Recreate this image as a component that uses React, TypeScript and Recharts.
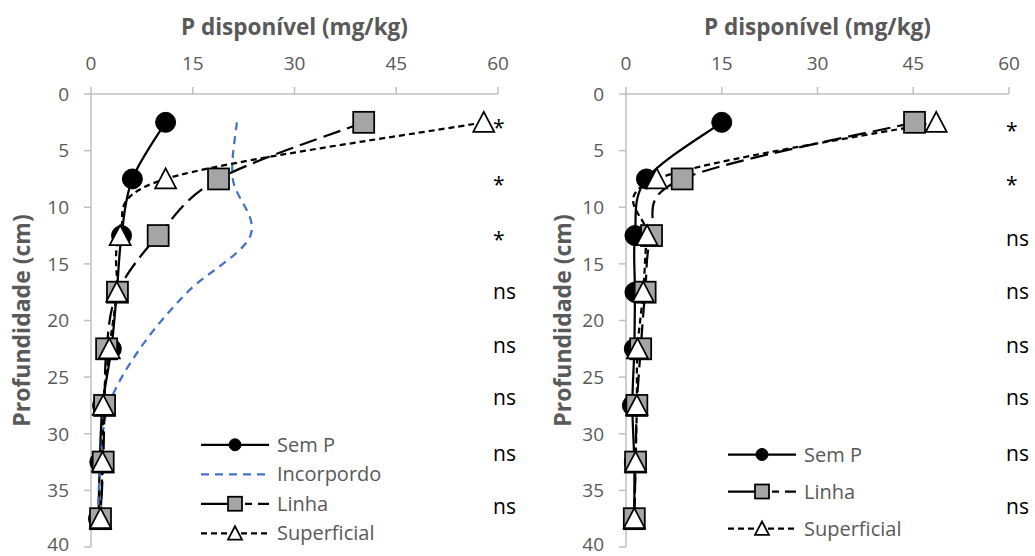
import { LineChart, Line, XAxis, YAxis, Legend, LabelList, Label } from 'recharts';

const FONT = '"Open Sans", "Noto Sans", sans-serif';
const GRAY_TEXT = '#595959';
const AXIS_GRAY = '#bfbfbf';

// profundidades (cm) e eixos
const depths = [2.5, 7.5, 12.5, 17.5, 22.5, 27.5, 32.5, 37.5];
const xTicks = [0, 15, 30, 45, 60];
const yTicks = [0, 5, 10, 15, 20, 25, 30, 35, 40];

// painel esquerdo
const semPLeft = [11.0, 6.1, 4.5, 3.8, 3.0, 1.7, 1.3, 1.1];
const incorpLeft = [21.5, 20.9, 23.5, 14.2, 7.2, 2.6, 1.4, 1.0];
const linhaLeft = [40.2, 18.8, 9.9, 3.9, 2.3, 2.0, 1.8, 1.4];
const supLeft = [57.9, 11.0, 4.3, 3.8, 2.7, 1.8, 1.7, 1.4];
const sigLeft = ['*', '*', '*', 'ns', 'ns', 'ns', 'ns', 'ns'];
const sigDepthLeft = [2.6, 7.6, 12.5, 17.6, 22.4, 27.0, 31.9, 36.6];

// painel direito
const semPRight = [15.0, 3.2, 1.4, 1.4, 1.3, 1.0, 1.3, 1.3];
const linhaRight = [45.2, 8.8, 4.0, 3.0, 2.3, 1.7, 1.5, 1.3];
const supRight = [48.6, 4.8, 3.3, 2.7, 1.8, 1.7, 1.5, 1.3];
const sigRight = ['*', '*', 'ns', 'ns', 'ns', 'ns', 'ns', 'ns'];
const sigDepthRight = [2.9, 7.6, 12.9, 17.6, 22.4, 27.0, 31.9, 36.6];

const buildRows = (semP: number[], linha: number[], sup: number[], incorp?: number[]) =>
  depths.map((depth, i) => ({
    depth,
    semP: semP[i],
    linha: linha[i],
    sup: sup[i],
    ...(incorp ? { incorp: incorp[i] } : {}),
  }));

const buildSig = (labels: string[], sigDepths: number[]) =>
  labels.map((label, i) => ({ depth: sigDepths[i], label }));

// suavizacao parecida com a do Excel (Catmull-Rom)
const smoothCurve = (context: any) => {
  let pts: number[][] = [];
  return {
    areaStart() {},
    areaEnd() {},
    lineStart() {
      pts = [];
    },
    point(x: number, y: number) {
      pts.push([+x, +y]);
    },
    lineEnd() {
      if (!pts.length) return;
      context.moveTo(pts[0][0], pts[0][1]);
      const t = 1 / 6;
      for (let i = 0; i < pts.length - 1; i++) {
        const p0 = pts[i - 1] || pts[i];
        const p1 = pts[i];
        const p2 = pts[i + 1];
        const p3 = pts[i + 2] || p2;
        context.bezierCurveTo(
          p1[0] + (p2[0] - p0[0]) * t,
          p1[1] + (p2[1] - p0[1]) * t,
          p2[0] - (p3[0] - p1[0]) * t,
          p2[1] - (p3[1] - p1[1]) * t,
          p2[0],
          p2[1]
        );
      }
    },
  };
};

type MarkerKind = 'circle' | 'square' | 'triangle' | 'none';

const Marker = ({ kind, cx, cy, size }: { kind: MarkerKind; cx: number; cy: number; size: number }) => {
  const h = size / 2;
  if (kind === 'circle') return <circle cx={cx} cy={cy} r={h} fill="#000" stroke="#000" strokeWidth={1} />;
  if (kind === 'square')
    return <rect x={cx - h} y={cy - h} width={size} height={size} fill="#a5a5a5" stroke="#000" strokeWidth={1.75} />;
  if (kind === 'triangle')
    return (
      <polygon
        points={`${cx},${cy - h} ${cx + h},${cy + h * 0.9} ${cx - h},${cy + h * 0.9}`}
        fill="#fff"
        stroke="#000"
        strokeWidth={1.75}
        strokeLinejoin="miter"
      />
    );
  return null;
};

const dotFor = (kind: MarkerKind, size: number) => (props: any) =>
  <Marker key={`${kind}-${props.index}`} kind={kind} cx={props.cx} cy={props.cy} size={size} />;

interface LegendItem {
  name: string;
  color: string;
  dash?: string;
  marker: MarkerKind;
}

const legendSemP: LegendItem = { name: 'Sem P', color: '#000', marker: 'circle' };
const legendIncorp: LegendItem = { name: 'Incorpordo', color: '#4472c4', dash: '8 6', marker: 'none' };
const legendLinha: LegendItem = { name: 'Linha', color: '#000', dash: '28 16 7 6 11 10', marker: 'square' };
const legendSup: LegendItem = { name: 'Superficial', color: '#000', dash: '6 4', marker: 'triangle' };

const renderLegend = (items: LegendItem[], rowH: number) => () => (
  <svg width={220} height={items.length * rowH} style={{ display: 'block' }}>
    {items.map((it, i) => {
      const cy = rowH * i + rowH / 2;
      return (
        <g key={it.name}>
          <line x1={1} x2={69} y1={cy} y2={cy} stroke={it.color} strokeWidth={2.25} strokeDasharray={it.dash} />
          <Marker kind={it.marker} cx={35} cy={cy} size={it.marker === 'circle' ? 12 : 14} />
          <text x={77} y={cy} dy="0.36em" fontFamily={FONT} fontSize={20} fill={GRAY_TEXT}>
            {it.name}
          </text>
        </g>
      );
    })}
  </svg>
);

const sigLabel = (dx: number) => (p: any) => {
  const x = p.x ?? p.viewBox?.x;
  const y = p.y ?? p.viewBox?.y;
  const star = p.value === '*';
  return (
    <text x={x + dx} y={y} dy={star ? '0.55em' : '0.27em'} fontFamily={FONT} fontSize={21} fill="#000">
      {p.value}
    </text>
  );
};

const YTick = (p: any) => (
  <text
    x={p.x}
    y={p.y}
    dy={p.payload.value === 40 ? '0.2em' : '0.36em'}
    textAnchor="end"
    fontFamily={FONT}
    fontSize={19}
    fill={GRAY_TEXT}
  >
    {p.payload.value}
  </text>
);

interface PanelProps {
  left: number;
  width: number;
  yAxisWidth: number;
  rightMargin: number;
  yLabelX: number;
  rows: any[];
  sig: { depth: number; label: string }[];
  sigDx: number;
  legendItems: LegendItem[];
  legendLeft: number;
  legendTop: number;
  legendRowH: number;
  showIncorp: boolean;
}

function Panel(props: PanelProps) {
  const { rows, sig } = props;
  return (
    <div style={{ position: 'absolute', left: props.left, top: 0 }}>
      <LineChart
        width={props.width}
        height={556}
        data={rows}
        layout="vertical"
        margin={{ top: 0, right: props.rightMargin, left: 0, bottom: 9 }}
      >
        <XAxis
          type="number"
          orientation="top"
          domain={[0, 60]}
          ticks={xTicks}
          height={94}
          tickSize={7}
          tickMargin={17}
          stroke={AXIS_GRAY}
          strokeWidth={1.5}
          tick={{ fill: GRAY_TEXT, fontSize: 19, fontFamily: FONT }}
        >
          <Label
            content={(lp: any) => {
              const vb = lp.viewBox || {};
              return (
                <text
                  x={vb.x + vb.width / 2}
                  y={35}
                  textAnchor="middle"
                  fontFamily={FONT}
                  fontSize={22.5}
                  fontWeight="bold"
                  fill={GRAY_TEXT}
                >
                  P disponível (mg/kg)
                </text>
              );
            }}
          />
        </XAxis>
        <YAxis
          type="number"
          dataKey="depth"
          domain={[0, 40]}
          ticks={yTicks}
          width={props.yAxisWidth}
          tickSize={7}
          tickMargin={15}
          stroke={AXIS_GRAY}
          strokeWidth={1.5}
          tick={<YTick />}
        >
          <Label
            content={(lp: any) => {
              const vb = lp.viewBox || {};
              const cx = vb.x + props.yLabelX;
              const cy = vb.y + vb.height / 2;
              return (
                <text
                  transform={`translate(${cx}, ${cy}) rotate(-90)`}
                  textAnchor="middle"
                  dy="0.36em"
                  fontFamily={FONT}
                  fontSize={23}
                  fontWeight="bold"
                  fill={GRAY_TEXT}
                >
                  Profundidade (cm)
                </text>
              );
            }}
          />
        </YAxis>
        <Legend
          layout="vertical"
          align="center"
          verticalAlign="middle"
          content={renderLegend(props.legendItems, props.legendRowH)}
          wrapperStyle={{ left: props.legendLeft, top: props.legendTop, width: 220 }}
        />
        <Line
          dataKey="semP"
          type={smoothCurve as any}
          stroke="#000"
          strokeWidth={2.25}
          dot={dotFor('circle', 20)}
          activeDot={false}
          isAnimationActive={false}
        />
        {props.showIncorp && (
          <Line
            dataKey="incorp"
            type={smoothCurve as any}
            stroke="#4472c4"
            strokeWidth={2.25}
            strokeDasharray="8 6"
            dot={false}
            activeDot={false}
            isAnimationActive={false}
          />
        )}
        <Line
          dataKey="linha"
          type={smoothCurve as any}
          stroke="#000"
          strokeWidth={2.25}
          strokeDasharray="18 7"
          dot={dotFor('square', 21)}
          activeDot={false}
          isAnimationActive={false}
        />
        <Line
          dataKey="sup"
          type={smoothCurve as any}
          stroke="#000"
          strokeWidth={2.25}
          strokeDasharray="6 4"
          dot={dotFor('triangle', 21)}
          activeDot={false}
          isAnimationActive={false}
        />
        <Line
          data={sig}
          dataKey={() => 60}
          stroke="none"
          dot={false}
          activeDot={false}
          isAnimationActive={false}
        >
          <LabelList dataKey="label" content={sigLabel(props.sigDx)} />
        </Line>
      </LineChart>
    </div>
  );
}

export default function App() {
  return (
    <div style={{ position: 'absolute', left: 0, top: 0, width: 1035, height: 556, background: '#fff' }}>
      <Panel
        left={0}
        width={520}
        yAxisWidth={91}
        rightMargin={22}
        yLabelX={22}
        rows={buildRows(semPLeft, linhaLeft, supLeft, incorpLeft)}
        sig={buildSig(sigLeft, sigDepthLeft)}
        sigDx={-5}
        legendItems={[legendSemP, legendIncorp, legendLinha, legendSup]}
        legendLeft={200}
        legendTop={430}
        legendRowH={29.5}
        showIncorp
      />
      <Panel
        left={520}
        width={515}
        yAxisWidth={106}
        rightMargin={26}
        yLabelX={43}
        rows={buildRows(semPRight, linhaRight, supRight)}
        sig={buildSig(sigRight, sigDepthRight)}
        sigDx={-3}
        legendItems={[legendSemP, legendLinha, legendSup]}
        legendLeft={207}
        legendTop={436}
        legendRowH={37}
        showIncorp={false}
      />
    </div>
  );
}
